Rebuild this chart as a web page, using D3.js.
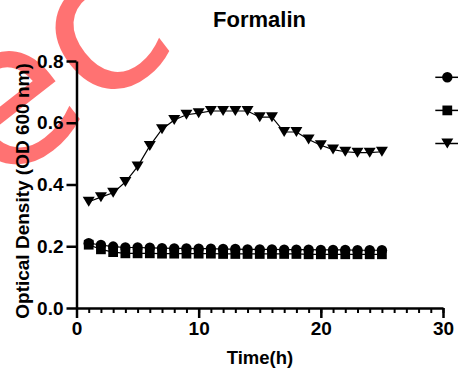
<!DOCTYPE html>
<html>
<head>
<meta charset="utf-8">
<script src="https://cdn.jsdelivr.net/npm/d3@7"></script>
<style>
  body { margin: 0; background: #fff; }
  svg { display: block; }
  text { font-family: "Liberation Sans", Arial, Helvetica, sans-serif; font-weight: bold; fill: #000; }
</style>
</head>
<body>
<svg id="chart" width="458" height="379"></svg>
<script>
// time points (h)
var hours = [1, 2, 3, 4, 5, 6, 7, 8, 9, 10, 11, 12, 13, 14, 15, 16, 17, 18, 19, 20, 21, 22, 23, 24, 25];

// OD600 readings per series
var circleOD = [0.210, 0.204, 0.199, 0.196, 0.196, 0.195, 0.194, 0.193, 0.193, 0.192, 0.192, 0.191, 0.191,
                0.190, 0.190, 0.190, 0.189, 0.189, 0.189, 0.188, 0.188, 0.188, 0.187, 0.187, 0.187];
var squareOD = [0.205, 0.190, 0.181, 0.177, 0.177, 0.177, 0.176, 0.176, 0.176, 0.176, 0.176, 0.175, 0.175,
                0.175, 0.175, 0.175, 0.175, 0.175, 0.174, 0.174, 0.174, 0.174, 0.174, 0.174, 0.174];
var triangleOD = [0.344, 0.359, 0.373, 0.408, 0.458, 0.525, 0.579, 0.609, 0.626, 0.631, 0.638, 0.638, 0.638,
                  0.638, 0.618, 0.618, 0.570, 0.570, 0.546, 0.527, 0.513, 0.506, 0.503, 0.503, 0.506];

var xTicks = [0, 10, 20, 30];
var xMinorTicks = d3.range(0, 31, 1);
var yTicks = [0.0, 0.2, 0.4, 0.6, 0.8];

var title = 'Formalin';
var xTitle = 'Time(h)';
var yTitle = 'Optical Density (OD 600 nm)';

const svg = d3.select('#chart');

// watermark behind everything
svg.append('text')
    .attr('transform', 'translate(-2,190) rotate(-38)')
    .style('font-family', '"DejaVu Sans", sans-serif')
    .style('font-weight', 'normal')
    .style('font-size', '200px')
    .style('fill', '#ff0000')
    .style('opacity', 0.55)
    .text('ec');

const xScale = d3.scaleLinear().domain([0, 30]).range([76.5, 443]);
const yScale = d3.scaleLinear().domain([0, 0.8]).range([308, 61]);

// minor x ticks
svg.append('g')
    .attr('transform', 'translate(0,308)')
    .call(d3.axisBottom(xScale).tickValues(xMinorTicks).tickSize(5).tickFormat(''))
    .call(g => g.select('.domain').remove())
    .selectAll('line').attr('stroke', '#000').attr('stroke-width', 2);

// x axis
const xAxis = svg.append('g')
    .attr('transform', 'translate(0,308)')
    .call(d3.axisBottom(xScale).tickValues(xTicks).tickSize(10).tickSizeOuter(0).tickPadding(4).tickFormat(d3.format('d')));
xAxis.select('.domain').attr('stroke', '#000').attr('stroke-width', 2.5);
xAxis.selectAll('line').attr('stroke', '#000').attr('stroke-width', 2.5);
xAxis.selectAll('text').style('font-size', '19px').style('font-family', '"Liberation Sans", Arial, sans-serif').style('font-weight', 'bold');

// y axis
const yAxis = svg.append('g')
    .attr('transform', 'translate(76.5,0)')
    .call(d3.axisLeft(yScale).tickValues(yTicks).tickSize(10).tickSizeOuter(0).tickPadding(3).tickFormat(d3.format('.1f')));
yAxis.select('.domain').attr('stroke', '#000').attr('stroke-width', 2.5);
yAxis.selectAll('line').attr('stroke', '#000').attr('stroke-width', 2.5);
yAxis.selectAll('text').style('font-size', '19px').style('font-family', '"Liberation Sans", Arial, sans-serif').style('font-weight', 'bold');

// marker shapes
var circleSym = d3.symbol().type(d3.symbolCircle).size(85)();
var squareSym = d3.symbol().type(d3.symbolSquare).size(95)();
var triDown = 'M-6,-5L6,-5L0,5Z';

var series = [
    {name: 'circle', values: circleOD, shape: circleSym},
    {name: 'square', values: squareOD, shape: squareSym},
    {name: 'triangle', values: triangleOD, shape: triDown}
];

const line = d3.line()
    .x(function (d) { return xScale(d.t); })
    .y(function (d) { return yScale(d.v); });

series.forEach(function (s) {
    var pts = hours.map(function (t, i) { return {t: t, v: s.values[i]}; });
    svg.append('path')
        .datum(pts)
        .attr('fill', 'none')
        .attr('stroke', '#000')
        .attr('stroke-width', 1.2)
        .attr('d', line);
    svg.append('g').selectAll('path')
        .data(pts)
        .enter().append('path')
        .attr('d', s.shape)
        .attr('fill', '#000')
        .attr('transform', function (d) { return 'translate(' + xScale(d.t) + ',' + yScale(d.v) + ')'; });
});

// legend (symbols only, labels fall outside the frame)
const legend = svg.append('g');
var legendY = d3.scalePoint().domain(series.map(s => s.name)).range([77.3, 143.5]);
series.forEach(function (s) {
    var g = legend.append('g').attr('transform', 'translate(447.3,' + legendY(s.name) + ')');
    g.append('line').attr('x1', -12).attr('x2', 11).attr('stroke', '#000').attr('stroke-width', 1.5);
    g.append('path').attr('d', s.shape).attr('fill', '#000');
});

// titles
svg.append('text')
    .attr('x', 259.5)
    .attr('y', 27)
    .attr('text-anchor', 'middle')
    .style('font-size', '22px')
    .text(title);

svg.append('text')
    .attr('x', 260)
    .attr('y', 364)
    .attr('text-anchor', 'middle')
    .style('font-size', '18.5px')
    .text(xTitle);

svg.append('text')
    .attr('transform', 'translate(29,191) rotate(-90)')
    .attr('text-anchor', 'middle')
    .style('font-size', '19px')
    .text(yTitle);
</script>
</body>
</html>
